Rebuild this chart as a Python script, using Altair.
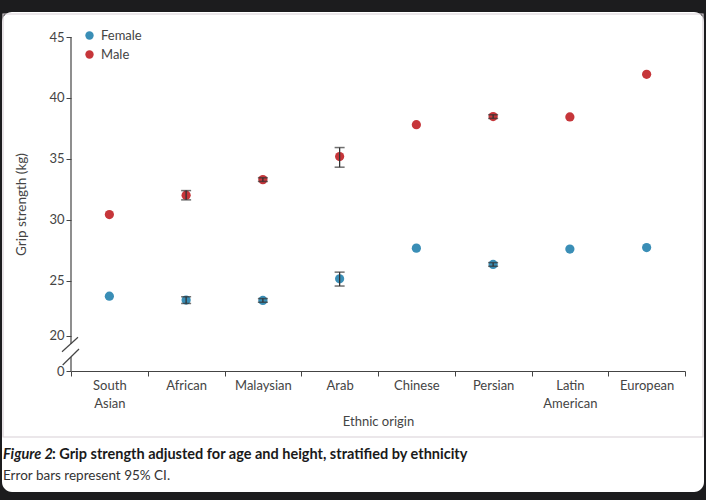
import altair as alt
import pandas as pd

# ---- data ----
categories = ["South Asian", "African", "Malaysian", "Arab", "Chinese",
              "Persian", "Latin American", "European"]
female = [23.74, 23.42, 23.39, 25.16, 27.68, 26.34, 27.60, 27.73]
male = [30.43, 32.02, 33.30, 35.19, 37.81, 38.47, 38.44, 41.94]
female_lo = [None, 23.14, 23.24, 24.57, None, 26.19, None, None]
female_hi = [None, 23.69, 23.54, 25.71, None, 26.49, None, None]
male_lo = [None, 31.64, 33.15, 34.32, None, 38.32, None, None]
male_hi = [None, 32.40, 33.45, 35.93, None, 38.62, None, None]
y_tick_values = [17.6, 20.5, 25, 30, 35, 40, 45]
sexes = ["Female", "Male"]
colors = ["#3a8eb6", "#c6363a"]

rows = []
err_rows = []
for i, c in enumerate(categories):
    rows.append({"category": c, "sex": "Female", "value": female[i]})
    rows.append({"category": c, "sex": "Male", "value": male[i]})
    if female_lo[i] is not None:
        err_rows.append({"category": c, "sex": "Female", "lo": female_lo[i], "hi": female_hi[i]})
    if male_lo[i] is not None:
        err_rows.append({"category": c, "sex": "Male", "lo": male_lo[i], "hi": male_hi[i]})
df = pd.DataFrame(rows)
df_err = pd.DataFrame(err_rows)
one = pd.DataFrame({"k": [0]})

FONT = "Lato"
AX = "#444444"

x_enc = alt.X(
    "category:N",
    sort=categories,
    scale=alt.Scale(domain=categories, paddingInner=0, paddingOuter=0),
    axis=alt.Axis(
        title="Ethnic origin", tickBand="extent", tickSize=5, tickColor=AX,
        domainColor=AX, labelAngle=0, labelFont=FONT, labelFontSize=13,
        labelColor=AX, labelPadding=3, labelLineHeight=18,
        labelExpr="datum.label == 'South Asian' ? ['South', 'Asian'] : datum.label == 'Latin American' ? ['Latin', 'American'] : datum.label",
        titleFont=FONT, titleFontSize=13, titleFontWeight="normal",
        titleColor=AX, titlePadding=5, zindex=1,
    ),
)
y_scale = alt.Scale(domain=[17.6, 45], nice=False, zero=False)
y_axis = alt.Axis(
    title="Grip strength (kg)", values=y_tick_values, domain=False,
    tickSize=5, tickColor=AX, labelFont=FONT, labelFontSize=13,
    labelColor=AX, labelPadding=2,
    labelExpr="datum.value < 18 ? '0' : datum.value < 21 ? '20' : format(datum.value, 'd')",
    titleFont=FONT, titleFontSize=13.5, titleFontWeight="normal",
    titleColor=AX, titlePadding=20, grid=False, zindex=1,
)

card = alt.Chart(one).mark_rect(color="white", cornerRadius=10).encode(
    x=alt.value(-69), x2=alt.value(633), y=alt.value(-25), y2=alt.value(455))
frame = alt.Chart(one).mark_rect(fillOpacity=0, stroke="#d8d0d5", strokeWidth=1.2).encode(
    x=alt.value(-68), x2=alt.value(632), y=alt.value(-23), y2=alt.value(400))

ydom1 = alt.Chart(one).mark_rule(color=AX, strokeWidth=1.2).encode(
    x=alt.value(0), y=alt.value(0), y2=alt.value(307))
ydom2 = alt.Chart(one).mark_rule(color=AX, strokeWidth=1.2).encode(
    x=alt.value(0), y=alt.value(320), y2=alt.value(334))
slash1 = alt.Chart(one).mark_rule(color=AX, strokeWidth=1.2).encode(
    x=alt.value(-9), y=alt.value(314.7), x2=alt.value(7), y2=alt.value(300.3))
slash2 = alt.Chart(one).mark_rule(color=AX, strokeWidth=1.2).encode(
    x=alt.value(-8.3), y=alt.value(328), x2=alt.value(8), y2=alt.value(312))

points = alt.Chart(df).mark_point(filled=True, size=85, opacity=1).encode(
    x=x_enc,
    y=alt.Y("value:Q", scale=y_scale, axis=y_axis),
    color=alt.Color("sex:N", scale=alt.Scale(domain=sexes, range=colors),
                    legend=alt.Legend(title=None, orient="none", legendX=12, legendY=-8,
                                      symbolType="circle", symbolSize=70,
                                      labelFont=FONT, labelFontSize=13,
                                      labelColor=AX, rowPadding=5, labelOffset=5)),
)
err_rule = alt.Chart(df_err).mark_rule(color="#333333", strokeWidth=1.3).encode(
    x=x_enc, y=alt.Y("lo:Q", scale=y_scale), y2="hi:Q")
err_lo = alt.Chart(df_err).mark_tick(color="#333333", size=10, thickness=1.5).encode(
    x=x_enc, y=alt.Y("lo:Q", scale=y_scale))
err_hi = alt.Chart(df_err).mark_tick(color="#333333", size=10, thickness=1.5).encode(
    x=x_enc, y=alt.Y("hi:Q", scale=y_scale))

cap1a = alt.Chart(one).mark_text(align="left", baseline="alphabetic", font=FONT,
                                 fontSize=14.5, fontWeight="bold", fontStyle="italic",
                                 color="#1a1a1a").encode(
    x=alt.value(-68), y=alt.value(422), text=alt.value("Figure 2"))
cap1b = alt.Chart(one).mark_text(align="left", baseline="alphabetic", font=FONT,
                                 fontSize=14.5, fontWeight="bold",
                                 color="#1a1a1a").encode(
    x=alt.value(-19), y=alt.value(422),
    text=alt.value(": Grip strength adjusted for age and height, stratified by ethnicity"))
cap2 = alt.Chart(one).mark_text(align="left", baseline="alphabetic", font=FONT,
                                fontSize=13.5, color="#333333").encode(
    x=alt.value(-68), y=alt.value(443), text=alt.value("Error bars represent 95% CI."))

chart = alt.layer(
    card, frame, ydom1, ydom2, slash1, slash2, points, err_rule, err_lo, err_hi,
    cap1a, cap1b, cap2,
).properties(
    width=614, height=334,
    padding={"left": 71, "top": 37, "right": 21, "bottom": 129},
    autosize="none",
    background="#1c1c1e",
).configure_view(strokeWidth=0)

chart.save("out.html", embed_options={"renderer": "svg", "actions": False})
